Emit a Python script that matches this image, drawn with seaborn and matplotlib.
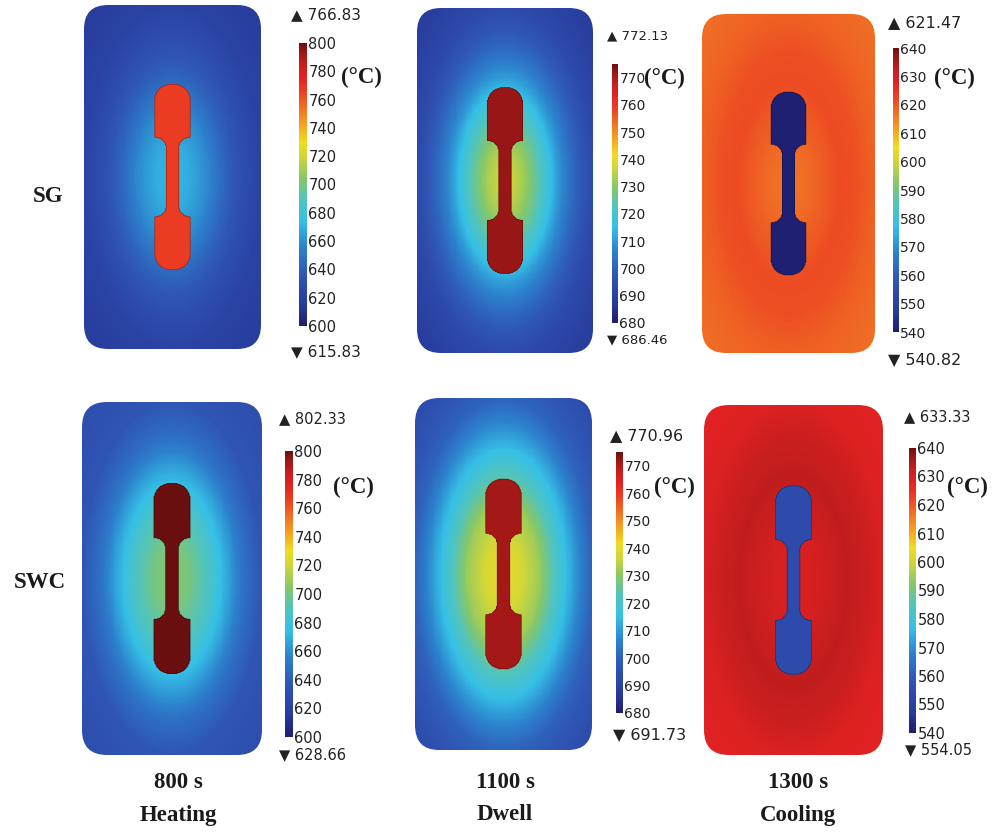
import numpy as np
import matplotlib
matplotlib.use("Agg")
import matplotlib.pyplot as plt
from matplotlib.colors import LinearSegmentedColormap, to_rgb
from matplotlib.patches import FancyBboxPatch
import seaborn as sns

# ---------------------------------------------------------------- data
rows = ["SG", "SWC"]
times = ["800 s", "1100 s", "1300 s"]
stages = ["Heating", "Dwell", "Cooling"]

# colour-scale limits / tick spacing per stage (°C)
scale_min = [600, 680, 540]
scale_max = [800, 775, 640]
scale_step = [20, 10, 10]
scale_top_tick = [800, 770, 640]

# reported extremes of each field (°C)
t_max = [[766.83, 772.13, 621.47], [802.33, 770.96, 633.33]]
t_min = [[615.83, 686.46, 540.82], [628.66, 691.73, 554.05]]
# the specimen holds the maximum while heating/dwelling, the minimum while cooling
specimen_is_max = [True, True, False]

# furnace-chamber temperature against normalised elliptical distance from centre
profile_r = [0.0, 0.2, 0.4, 0.6, 0.8, 1.0, 1.42]
profile_sg = [
    [672, 668, 658, 642, 630, 622, 615.83],
    [738, 733, 723, 710, 700, 693, 686.46],
    [616.5, 617.5, 619.5, 621.47, 620.8, 619, 617],
]
profile_swc = [
    [705, 700, 688, 668, 648, 636, 628.66],
    [741, 738, 732, 721, 710, 700, 691.73],
    [629.5, 630, 631.5, 633.33, 632, 629.5, 628],
]
profiles = [profile_sg, profile_swc]

# ---------------------------------------------------------------- geometry (mm)
BOX_W, BOX_H, BOX_R = 40.0, 78.0, 5.5
SPEC_HALF_LEN, HEAD_LEN = 21.0, 12.0
HEAD_HALF_W, NECK_HALF_W = 4.0, 1.4
FILLET_R, HEAD_ROUND = 2.4, 3.6
CELL = 0.2

nx, ny = int(BOX_W / CELL), int(BOX_H / CELL)
xc = (np.arange(nx) + 0.5) * CELL - BOX_W / 2
yc = (np.arange(ny) + 0.5) * CELL - BOX_H / 2
X, Y = np.meshgrid(xc, yc)
ax_abs, ay_abs = np.abs(X), np.abs(Y)

shoulder = SPEC_HALF_LEN - HEAD_LEN
neck = (ay_abs <= shoulder - FILLET_R) & (ax_abs <= NECK_HALF_W)
fc_x = NECK_HALF_W + FILLET_R
fillet = ((ay_abs > shoulder - FILLET_R) & (ay_abs <= shoulder) & (ax_abs <= fc_x)
          & ((ax_abs - fc_x) ** 2 + (ay_abs - (shoulder - FILLET_R)) ** 2 >= FILLET_R ** 2))
head = (ay_abs > shoulder) & (ay_abs <= SPEC_HALF_LEN) & (ax_abs <= HEAD_HALF_W)
cx0, cy0 = HEAD_HALF_W - HEAD_ROUND, SPEC_HALF_LEN - HEAD_ROUND
corner_out = (ax_abs > cx0) & (ay_abs > cy0) & ((ax_abs - cx0) ** 2 + (ay_abs - cy0) ** 2 > HEAD_ROUND ** 2)
specimen = neck | fillet | (head & ~corner_out)

dist = np.sqrt((X / (BOX_W / 2)) ** 2 + (Y / (BOX_H / 2)) ** 2)

# ---------------------------------------------------------------- colour map
stops = [
    (0.00, "#1f1d6e"), (0.08, "#283c9c"), (0.18, "#2f55b4"), (0.28, "#2c82cc"),
    (0.37, "#35c0e6"), (0.45, "#52c4bc"), (0.52, "#84c66a"), (0.60, "#cfd63a"),
    (0.65, "#f0dc22"), (0.71, "#f3a420"), (0.77, "#f07224"), (0.83, "#ec3e22"),
    (0.88, "#e42222"), (0.93, "#c41d1d"), (0.97, "#991616"), (1.00, "#6a0f0f"),
]
rainbow = LinearSegmentedColormap.from_list("rainbow_fe", stops, N=512)

# ---------------------------------------------------------------- layout (pixels)
FW, FH = 1002, 832
box_px = [
    [(84, 5, 261, 349), (417, 8, 593, 353), (702, 14, 875, 353)],
    [(82, 402, 262, 755), (415, 398, 592, 750), (704, 405, 883, 755)],
]
cbar_px = [
    [(299, 43, 307, 326), (612, 64, 618, 323), (893, 48, 899, 332)],
    [(285, 451, 293, 737), (616, 452, 623, 713), (909, 448, 916, 733)],
]
tick_fs = [[10.5, 10.0, 10.0], [10.5, 10.0, 10.5]]
ext_fs = [[11.0, 9.5, 11.5], [10.5, 11.5, 10.5]]
up_px = [[(291, 15), (607, 36), (888, 23)], [(279, 419), (610, 436), (904, 417)]]
dn_px = [[(291, 352), (607, 340), (888, 360)], [(279, 755), (613, 735), (905, 750)]]
unit_px = [[(361, 77), (664, 78), (954, 78)], [(353, 487), (674, 487), (967, 487)]]
row_px = [(48, 197), (40, 582)]
col_x = [178, 505, 798]


def frac_rect(l, t, r, b):
    return [l / FW, 1 - b / FH, (r - l) / FW, (b - t) / FH]


def fpos(x, y):
    return x / FW, 1 - y / FH


sns.set_theme(style="white")
plt.rcParams["font.family"] = ["DejaVu Sans"]
serif_bold = dict(family=["Liberation Serif", "DejaVu Serif"], weight="bold", fontsize=16.5, color="#1a1a1a")

fig = plt.figure(figsize=(FW / 100, FH / 100), dpi=100)
fig.patch.set_facecolor("white")

for i in range(2):
    for j in range(3):
        field = np.interp(dist, profile_r, profiles[i][j])
        t_spec = t_max[i][j] if specimen_is_max[j] else t_min[i][j]
        field = np.where(specimen, t_spec, field)

        ax = fig.add_axes(frac_rect(*box_px[i][j]))
        cax = fig.add_axes(frac_rect(*cbar_px[i][j]))
        sns.heatmap(field, ax=ax, cmap=rainbow, vmin=scale_min[j], vmax=scale_max[j],
                    cbar_ax=cax, xticklabels=False, yticklabels=False, rasterized=True)
        mesh = ax.collections[0]
        clip = FancyBboxPatch((0, 0), nx, ny, boxstyle=f"round,pad=0,rounding_size={BOX_R / CELL}",
                              transform=ax.transData, facecolor="none", edgecolor="none")
        ax.add_patch(clip)
        mesh.set_clip_path(clip)

        # thin outline of the specimen
        edge = np.array(to_rgb(rainbow((t_spec - scale_min[j]) / (scale_max[j] - scale_min[j])))) * 0.7
        ax.contour(np.arange(nx) + 0.5, np.arange(ny) + 0.5, specimen.astype(float),
                   levels=[0.5], colors=[edge], linewidths=0.6)
        ax.set_axis_off()

        cbar = mesh.colorbar
        cbar.set_ticks(np.arange(scale_min[j], scale_top_tick[j] + 1, scale_step[j]))
        cbar.outline.set_visible(False)
        cax.tick_params(length=0, pad=1, labelsize=tick_fs[i][j], labelcolor="#222222")

        fig.text(*fpos(*up_px[i][j]), f"\u25B2 {t_max[i][j]:.2f}", ha="left", va="center",
                 fontsize=ext_fs[i][j], color="#222222")
        fig.text(*fpos(*dn_px[i][j]), f"\u25BC {t_min[i][j]:.2f}", ha="left", va="center",
                 fontsize=ext_fs[i][j], color="#222222")
        fig.text(*fpos(*unit_px[i][j]), "(°C)", ha="center", va="center", **serif_bold)

for name, (x, y) in zip(rows, row_px):
    fig.text(*fpos(x, y), name, ha="center", va="center", **serif_bold)

for x, t, s in zip(col_x, times, stages):
    fig.text(*fpos(x, 783), t, ha="center", va="center", **serif_bold)
    fig.text(*fpos(x, 815), s, ha="center", va="center", **serif_bold)

fig.savefig("out.png", dpi=100, facecolor="white")
